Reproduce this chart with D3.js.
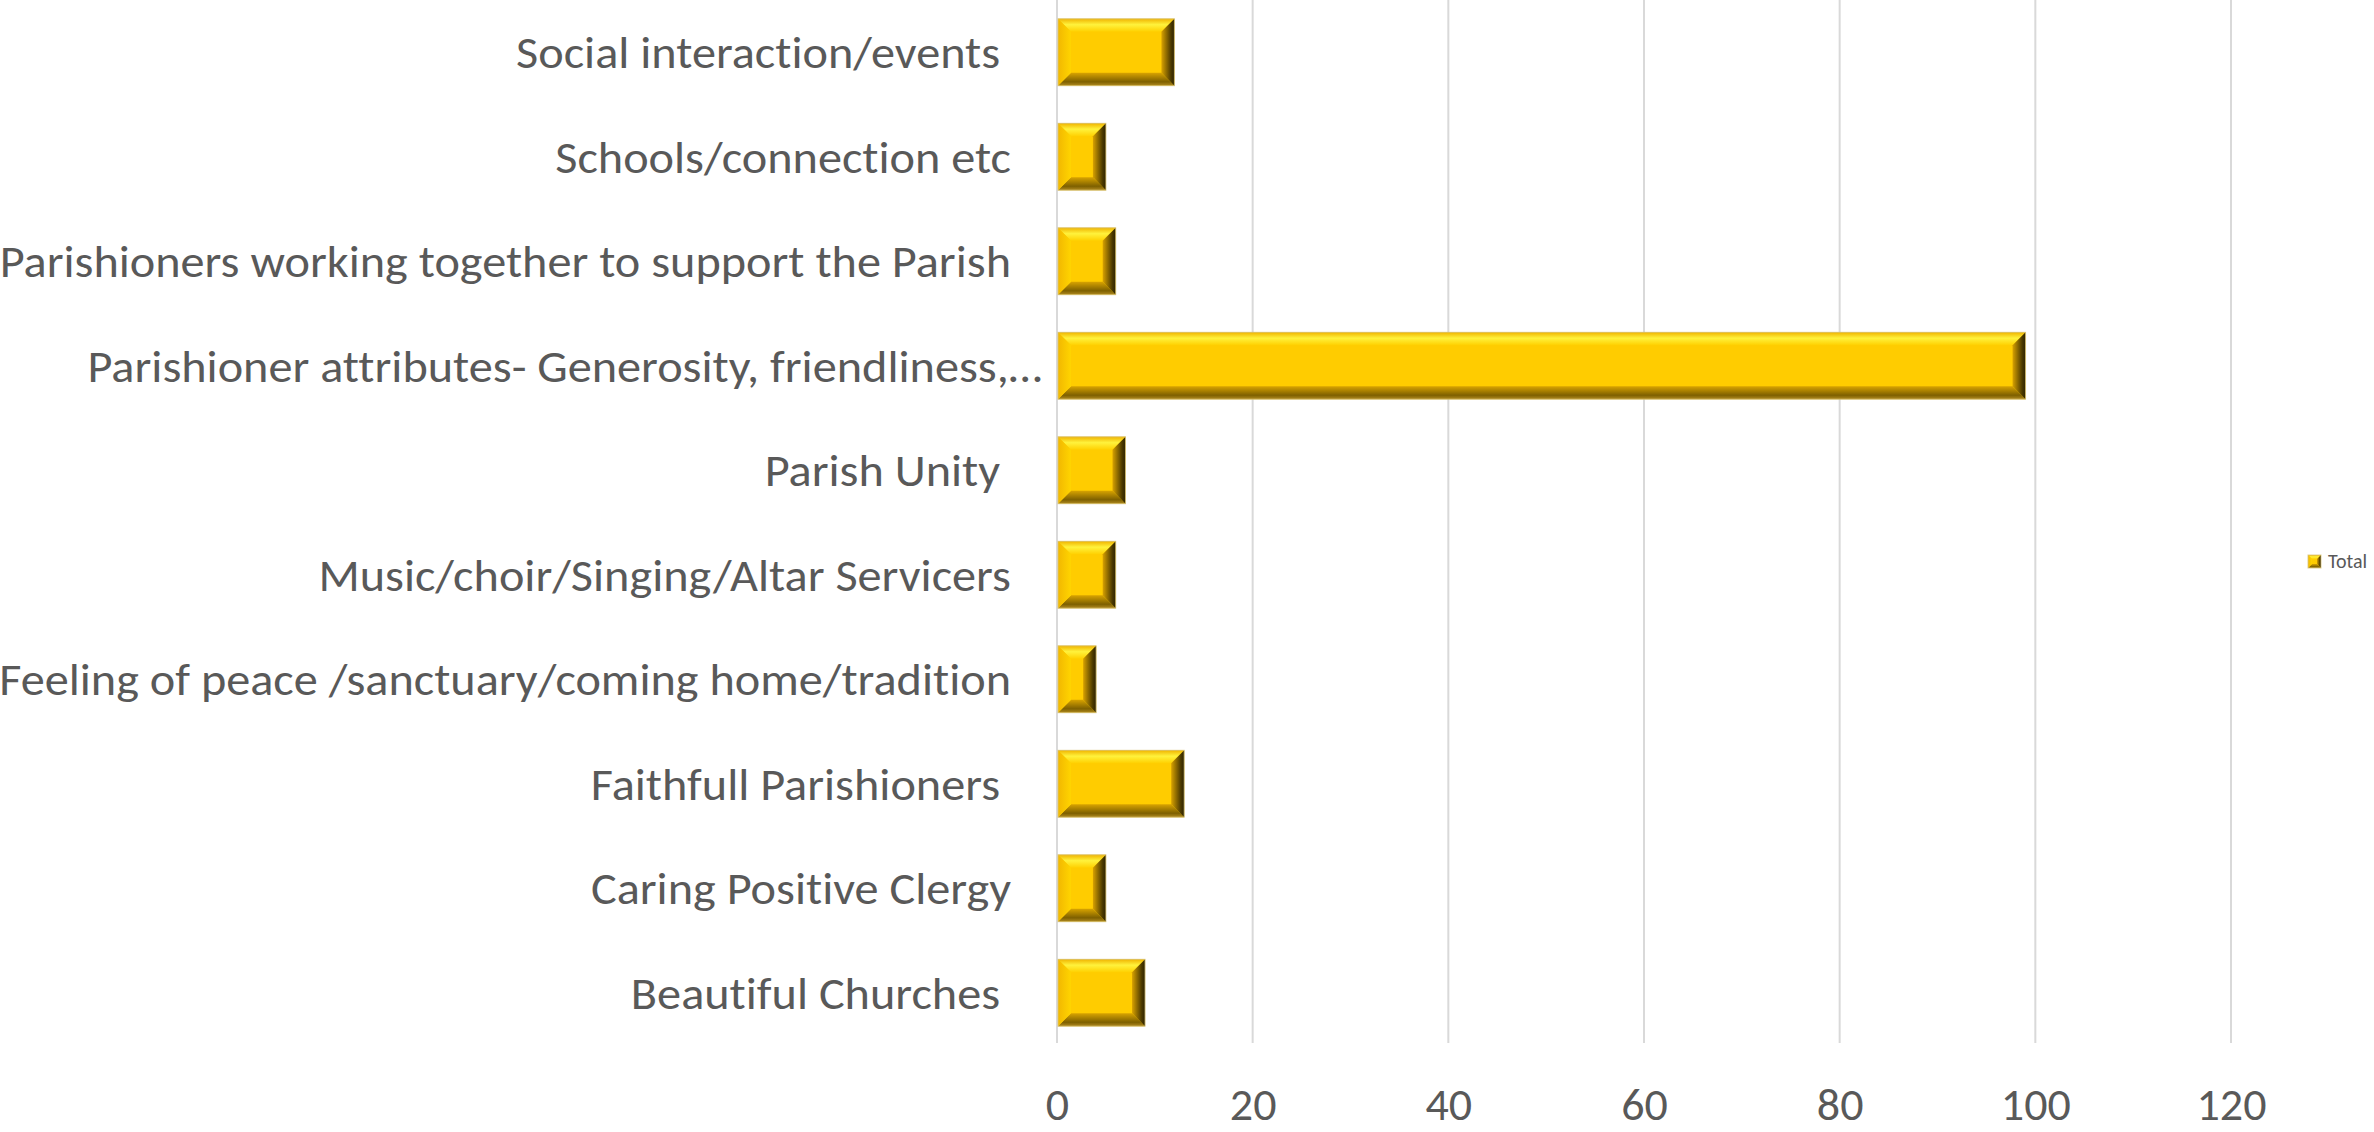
<!DOCTYPE html>
<html>
<head>
<meta charset="utf-8">
<script src="https://cdn.jsdelivr.net/npm/d3@7"></script>
<style>
  html, body { margin: 0; padding: 0; background: #fff; overflow: hidden; }
  text { white-space: pre; font-variant-ligatures: none; font-feature-settings: "liga" 0, "clig" 0; }
</style>
</head>
<body>
<svg id="chart" width="2374" height="1132"></svg>
<script>
// ---- data ----
const categories = [
  "Social interaction/events ",
  "Schools/connection etc",
  "Parishioners working together to support the Parish",
  "Parishioner attributes- Generosity, friendliness,…",
  "Parish Unity ",
  "Music/choir/Singing/Altar Servicers",
  "Feeling of peace /sanctuary/coming home/tradition",
  "Faithfull Parishioners ",
  "Caring Positive Clergy",
  "Beautiful Churches "
];
const totals = [12, 5, 6, 99, 7, 6, 4, 13, 5, 9];
const xTicks = [0, 20, 40, 60, 80, 100, 120];
const seriesName = "Total";

// ---- layout ----
const plot = { left: 1057, right: 2231, top: 0, bottom: 1045 };
const FONT = "Carlito, Calibri, Lato, 'Open Sans', sans-serif";
const textColor = "#595959";

const svg = d3.select("#chart");
const defs = svg.append("defs");

const x = d3.scaleLinear().domain([0, 120]).range([plot.left, plot.right]);
const y = d3.scaleBand().domain(categories).range([plot.top, plot.bottom])
  .paddingInner(0.36).paddingOuter(0.18);

function grad(id, x1, y1, x2, y2, stops) {
  const g = defs.append("linearGradient").attr("id", id)
    .attr("x1", x1).attr("y1", y1).attr("x2", x2).attr("y2", y2);
  stops.forEach(s => g.append("stop").attr("offset", s[0]).attr("stop-color", s[1]));
}
grad("gTop", 0, 0, 0, 1, [[0, "#F0B400"], [0.45, "#FFF23C"], [1, "#FFD000"]]);
grad("gBottom", 0, 0, 0, 1, [[0, "#D9A400"], [0.7, "#7E6000"], [1, "#B08A20"]]);
grad("gRight", 0, 0, 1, 0, [[0, "#D8A200"], [0.75, "#4A3800"], [1, "#2E2300"]]);
grad("gLeft", 0, 0, 1, 0, [[0, "#F2B800"], [1, "#FFD400"]]);

// gridlines
const grid = svg.append("g");
grid.selectAll("line").data(xTicks).enter().append("line")
  .attr("x1", d => x(d)).attr("x2", d => x(d))
  .attr("y1", plot.top).attr("y2", 1043)
  .attr("stroke", "#D9D9D9").attr("stroke-width", 2);

// x axis labels
const xAxis = d3.axisBottom(x).tickValues(xTicks).tickSize(0).tickPadding(0);
const xg = svg.append("g").attr("transform", `translate(0, ${1120})`).call(xAxis);
xg.select(".domain").remove();
xg.selectAll("text")
  .attr("dy", 0).attr("y", 0)
  .attr("font-family", FONT).attr("font-size", 46).attr("fill", textColor);

function bevelBar(g, x0, y0, w, h, b) {
  b = Math.min(b, w / 2, h / 2);
  g.append("rect").attr("x", x0).attr("y", y0).attr("width", w).attr("height", h)
    .attr("fill", "#FFCC00");
  const pts = a => a.map(p => p.join(",")).join(" ");
  g.append("polygon").attr("fill", "url(#gTop)")
    .attr("points", pts([[x0, y0], [x0 + w, y0], [x0 + w - b, y0 + b], [x0 + b, y0 + b]]));
  g.append("polygon").attr("fill", "url(#gBottom)")
    .attr("points", pts([[x0 + b, y0 + h - b], [x0 + w - b, y0 + h - b], [x0 + w, y0 + h], [x0, y0 + h]]));
  g.append("polygon").attr("fill", "url(#gLeft)")
    .attr("points", pts([[x0, y0], [x0 + b, y0 + b], [x0 + b, y0 + h - b], [x0, y0 + h]]));
  g.append("polygon").attr("fill", "url(#gRight)")
    .attr("points", pts([[x0 + w - b, y0 + b], [x0 + w, y0], [x0 + w, y0 + h], [x0 + w - b, y0 + h - b]]));
  g.append("rect").attr("x", x0).attr("y", y0).attr("width", w).attr("height", h)
    .attr("fill", "none").attr("stroke", "#D6C27A").attr("stroke-width", 1).attr("stroke-opacity", 0.8);
}

const bars = svg.append("g");
categories.forEach((c, i) => {
  bevelBar(bars.append("g"), x(0) + 1, y(c), x(totals[i]) - x(0) - 1, y.bandwidth(), 13);
});

// category labels
const labels = svg.append("g").selectAll("text").data(categories).enter().append("text")
  .attr("x", d => d.endsWith("…") ? plot.left - 15 : plot.left - 46)
  .attr("y", d => y(d) + y.bandwidth() / 2)
  .attr("dy", "0.35em")
  .attr("text-anchor", "end")
  .attr("font-family", FONT).attr("font-size", 45).attr("fill", textColor)
  .text(d => d);

// match Calibri-like width (reference string width ~484px)
const probe = svg.append("text").attr("font-family", FONT).attr("font-size", 45)
  .text("Social interaction/events");
const k = 484 / probe.node().getComputedTextLength();
probe.remove();
if (Math.abs(k - 1) > 0.01) {
  labels.each(function () {
    const L = this.getComputedTextLength();
    d3.select(this).attr("textLength", L * k).attr("lengthAdjust", "spacingAndGlyphs");
  });
}

// legend
const leg = svg.append("g");
bevelBar(leg, 2308, 555, 13, 13, 4);
leg.append("text").attr("x", 2328).attr("y", 561).attr("dy", "0.35em")
  .attr("font-family", FONT).attr("font-size", 20).attr("fill", textColor)
  .text(seriesName);
</script>
</body>
</html>
